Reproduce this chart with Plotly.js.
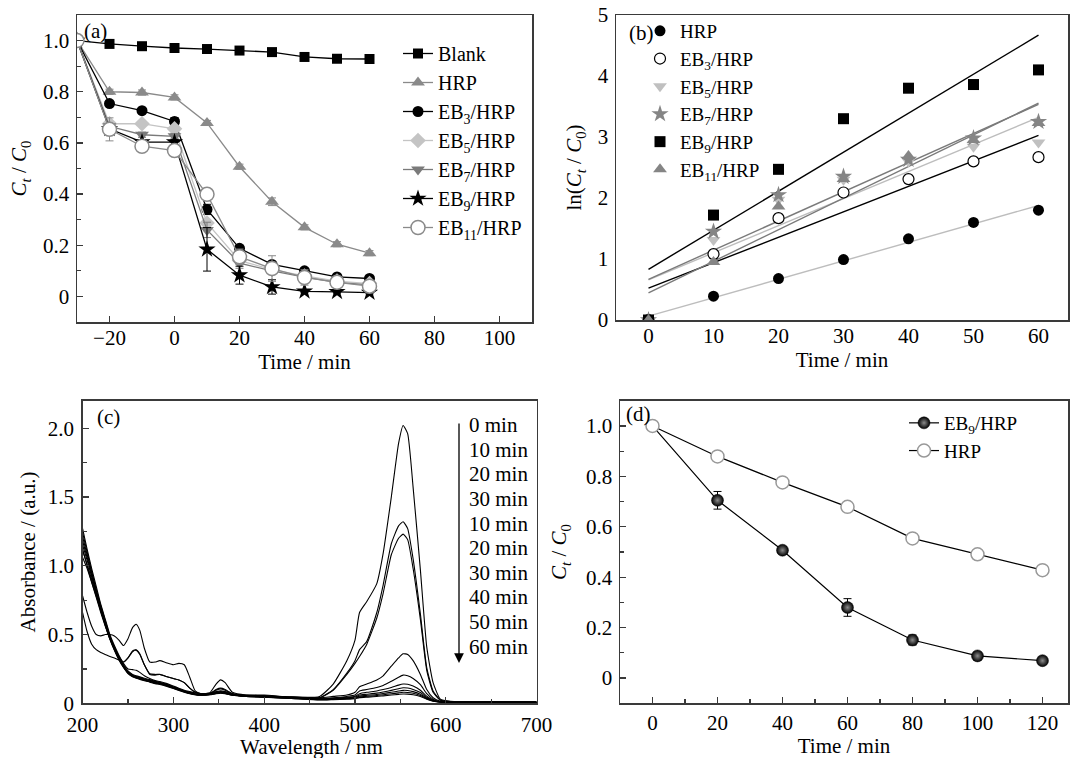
<!DOCTYPE html>
<html><head><meta charset="utf-8">
<script src="https://cdn.plot.ly/plotly-3.0.1.min.js"></script>
<style>html,body{margin:0;padding:0;background:#fff}#chart{width:1070px;height:758px}</style>
</head><body><div id="chart"></div>
<script>
// ---------- Panel (a) ----------
const timeA  = [-30,-20,-10,0,10,20,30,40,50,60];
const blankA = [1.0,0.987,0.978,0.971,0.967,0.961,0.955,0.936,0.929,0.928];
const hrpA   = [1.0,0.800,0.797,0.778,0.678,0.507,0.370,0.270,0.204,0.169];
const eb3A   = [1.0,0.754,0.726,0.684,0.340,0.188,0.125,0.100,0.076,0.070];
const eb5A   = [1.0,0.675,0.675,0.655,0.287,0.140,0.105,0.080,0.060,0.050];
const eb7A   = [1.0,0.665,0.632,0.626,0.260,0.130,0.100,0.075,0.055,0.045];
const eb9A   = [1.0,0.655,0.603,0.603,0.184,0.083,0.037,0.020,0.018,0.015];
const eb11A  = [1.0,0.653,0.587,0.570,0.399,0.155,0.109,0.074,0.055,0.040];
const errHrpA  = [0,0.01,0.01,0.01,0.01,0.01,0.015,0.01,0.01,0.01];
const errEb3A  = [0,0.01,0.01,0.015,0.02,0.01,0.01,0.01,0.01,0.01];
const errEb7A  = [0,0.01,0.01,0.01,0.03,0.02,0.01,0.01,0.01,0.01];
const errEb9A  = [0,0.01,0.01,0.01,0.085,0.035,0.028,0.005,0.005,0.005];
const errEb11A = [0,0.045,0.02,0.02,0.02,0.03,0.05,0.03,0.02,0.02];
const namesA = ['Blank','HRP','EB<sub>3</sub>/HRP','EB<sub>5</sub>/HRP','EB<sub>7</sub>/HRP','EB<sub>9</sub>/HRP','EB<sub>11</sub>/HRP'];

// ---------- Panel (b) ----------
const timeB = [0,10,20,30,40,50,60];
const hrpB  = [0,0.39,0.68,0.99,1.33,1.60,1.80];
const eb3B  = [0,1.08,1.67,2.09,2.31,2.60,2.67];
const eb5B  = [0,1.31,1.97,2.30,2.60,2.84,2.91];
const eb7B  = [0,1.45,2.05,2.35,2.63,2.98,3.25];
const eb9B  = [0,1.72,2.47,3.30,3.80,3.86,4.10];
const eb11B = [0,0.95,1.86,2.31,2.69,2.95,3.23];
const namesB = ['HRP','EB<sub>3</sub>/HRP','EB<sub>5</sub>/HRP','EB<sub>7</sub>/HRP','EB<sub>9</sub>/HRP','EB<sub>11</sub>/HRP'];

// ---------- Panel (c) ----------
const wl = [200,205,210,215,220,225,230,235,240,245,250,255,259,263,268,274,280,285,292,300,306,312,318,324,330,340,347,352,357,365,380,400,430,
            461,476,491,500,505,513,524,531,540,548,553,558,564,572,579,586,594,605,650,700];
const spec0 = [0.78,0.66,0.56,0.50,0.49,0.50,0.50,0.49,0.46,0.42,0.47,0.55,0.575,0.53,0.40,0.30,0.30,0.31,0.295,0.28,0.29,0.28,0.19,0.09,0.07,0.075,0.14,0.17,0.15,0.08,0.06,0.06,0.045,
               0.05,0.14,0.31,0.46,0.66,0.74,0.87,1.09,1.50,1.89,2.02,1.96,1.57,0.97,0.41,0.15,0.03,0.015,0.01,0.01];
const spec1 = [1.12,1.0,0.88,0.77,0.66,0.56,0.47,0.40,0.34,0.30,0.33,0.38,0.39,0.36,0.28,0.21,0.205,0.21,0.195,0.18,0.17,0.15,0.11,0.08,0.07,0.07,0.10,0.11,0.10,0.07,0.055,0.055,0.045,
               0.04,0.10,0.22,0.31,0.39,0.45,0.66,0.86,1.16,1.29,1.32,1.27,1.05,0.65,0.26,0.09,0.025,0.012,0.01,0.01];
const spec2 = [0.66,0.52,0.43,0.39,0.37,0.355,0.34,0.33,0.315,0.30,0.33,0.375,0.385,0.355,0.28,0.215,0.21,0.21,0.195,0.18,0.17,0.15,0.11,0.08,0.07,0.07,0.095,0.105,0.095,0.07,0.055,0.055,0.045,
               0.04,0.095,0.21,0.29,0.34,0.43,0.62,0.80,1.08,1.20,1.23,1.19,0.98,0.61,0.24,0.08,0.022,0.012,0.01,0.01];
const spec3 = [1.27,1.12,0.98,0.85,0.72,0.61,0.50,0.42,0.35,0.29,0.25,0.245,0.24,0.225,0.20,0.18,0.165,0.158,0.145,0.125,0.11,0.095,0.085,0.075,0.07,0.075,0.085,0.09,0.085,0.07,0.06,0.055,0.045,
               0.04,0.05,0.06,0.08,0.12,0.14,0.17,0.20,0.27,0.33,0.36,0.355,0.31,0.21,0.10,0.04,0.015,0.01,0.008,0.008];
const spec4 = [1.24,1.10,0.96,0.83,0.71,0.60,0.49,0.41,0.34,0.28,0.235,0.21,0.20,0.192,0.182,0.172,0.16,0.153,0.14,0.12,0.105,0.09,0.08,0.07,0.065,0.07,0.08,0.085,0.08,0.065,0.055,0.05,0.04,
               0.035,0.04,0.05,0.06,0.09,0.10,0.115,0.13,0.16,0.19,0.205,0.20,0.18,0.135,0.07,0.03,0.012,0.008,0.007,0.007];
const spec5 = [1.21,1.08,0.95,0.82,0.70,0.59,0.485,0.405,0.335,0.275,0.23,0.205,0.195,0.187,0.177,0.167,0.156,0.15,0.137,0.118,0.103,0.089,0.078,0.068,0.063,0.068,0.077,0.082,0.077,0.063,0.053,0.048,0.039,
               0.032,0.036,0.044,0.052,0.07,0.08,0.09,0.10,0.115,0.132,0.14,0.138,0.125,0.095,0.052,0.024,0.011,0.008,0.007,0.007];
const spec6 = [1.18,1.06,0.93,0.81,0.69,0.58,0.48,0.40,0.33,0.27,0.226,0.201,0.191,0.183,0.173,0.163,0.152,0.146,0.134,0.115,0.10,0.087,0.076,0.066,0.061,0.066,0.075,0.08,0.075,0.061,0.052,0.047,0.038,
               0.03,0.034,0.04,0.046,0.06,0.066,0.074,0.082,0.094,0.106,0.113,0.111,0.101,0.078,0.044,0.021,0.01,0.007,0.006,0.006];
const spec7 = [1.15,1.04,0.92,0.80,0.68,0.575,0.475,0.395,0.325,0.267,0.222,0.198,0.188,0.18,0.17,0.16,0.149,0.143,0.131,0.112,0.098,0.085,0.074,0.064,0.06,0.064,0.073,0.078,0.073,0.06,0.051,0.046,0.037,
               0.028,0.031,0.036,0.042,0.052,0.058,0.064,0.071,0.08,0.089,0.094,0.093,0.085,0.066,0.038,0.019,0.01,0.007,0.006,0.006];
const spec8 = [1.11,1.01,0.90,0.79,0.675,0.57,0.47,0.39,0.32,0.264,0.219,0.195,0.185,0.177,0.167,0.157,0.146,0.14,0.128,0.11,0.096,0.083,0.072,0.063,0.059,0.063,0.071,0.076,0.071,0.059,0.05,0.045,0.036,
               0.026,0.029,0.033,0.038,0.046,0.051,0.056,0.062,0.069,0.076,0.08,0.079,0.073,0.057,0.034,0.017,0.009,0.006,0.005,0.005];
const spec9 = [1.06,0.98,0.88,0.78,0.67,0.565,0.465,0.385,0.315,0.26,0.216,0.192,0.182,0.174,0.164,0.154,0.143,0.137,0.125,0.108,0.094,0.081,0.07,0.062,0.058,0.062,0.07,0.074,0.07,0.058,0.049,0.044,0.035,
               0.024,0.027,0.03,0.034,0.041,0.045,0.049,0.054,0.06,0.065,0.068,0.067,0.062,0.049,0.03,0.015,0.008,0.006,0.005,0.005];
const spectra = [spec0,spec1,spec2,spec3,spec4,spec5,spec6,spec7,spec8,spec9];
const timeLabelsC = ['0 min','10 min','20 min','30 min','10 min','20 min','30 min','40 min','50 min','60 min'];

// ---------- Panel (d) ----------
const timeD  = [0,20,40,60,80,100,120];
const eb9D   = [1.0,0.705,0.507,0.280,0.151,0.088,0.069];
const hrpD   = [1.0,0.879,0.776,0.679,0.554,0.491,0.428];
const errEb9D = [0,0.035,0.012,0.035,0.02,0.012,0.01];
const errHrpD = [0,0.012,0.012,0.012,0.012,0.012,0.012];
const namesD = ['EB<sub>9</sub>/HRP','HRP'];

// ---------- helpers ----------
const W = 1070, H = 758;
const px = v => v / W;
const py = v => 1 - v / H;
const FONT = 'Liberation Serif, Times New Roman, serif';
const BLACK = '#000000', GRAY = '#8a8a8a', LIGHT = '#c4c4c4';

function err(arr, color){ return {type:'data', array:arr, visible:true, color:color, thickness:1, width:4}; }
function linFit(xs, ys){
  const n = xs.length; let sx=0, sy=0, sxx=0, sxy=0;
  for (let i=0;i<n;i++){ sx+=xs[i]; sy+=ys[i]; sxx+=xs[i]*xs[i]; sxy+=xs[i]*ys[i]; }
  const m = (n*sxy - sx*sy)/(n*sxx - sx*sx);
  const b = (sy - m*sx)/n;
  return {m, b};
}

const traces = [];

// (a)
const styleA = [
  {y:blankA, sym:'square', size:10, color:BLACK, fill:BLACK, lc:BLACK, e:null},
  {y:hrpA, sym:'triangle-up', size:12, color:GRAY, fill:GRAY, lc:GRAY, e:errHrpA},
  {y:eb3A, sym:'circle', size:11, color:BLACK, fill:BLACK, lc:BLACK, e:errEb3A},
  {y:eb5A, sym:'diamond', size:12, color:LIGHT, fill:LIGHT, lc:LIGHT, e:null},
  {y:eb7A, sym:'triangle-down', size:12, color:'#7a7a7a', fill:'#7a7a7a', lc:'#7a7a7a', e:errEb7A},
  {y:eb9A, sym:'star', size:13, color:BLACK, fill:BLACK, lc:BLACK, e:errEb9A},
  {y:eb11A, sym:'circle', size:14, color:GRAY, fill:'#ffffff', lc:GRAY, e:errEb11A}
];
styleA.forEach((s,i)=>{
  const t = {x:timeA, y:s.y, name:namesA[i], xaxis:'x', yaxis:'y', mode:'lines+markers', legend:'legend',
    line:{color:s.lc, width:1.3},
    marker:{symbol:s.sym, size:s.size, color:s.fill, line:{color:s.color, width:(s.fill==='#ffffff'?1.5:0)}}};
  if (s.e) t.error_y = err(s.e, s.lc);
  traces.push(t);
});

// (b) fitted lines (least squares through each series)
const seriesB = [hrpB, eb3B, eb5B, eb7B, eb9B, eb11B];
const fitColors = ['#bdbdbd', BLACK, '#bdbdbd', '#7a7a7a', BLACK, '#7a7a7a'];
seriesB.forEach((ys,i)=>{
  const f = linFit(timeB, ys);
  const x0 = timeB[0], x1 = timeB[timeB.length-1];
  traces.push({x:[x0,x1], y:[f.b+f.m*x0, f.b+f.m*x1], xaxis:'x2', yaxis:'y2', mode:'lines',
    line:{color:fitColors[i], width:1.4}, showlegend:false, hoverinfo:'skip'});
});
const markB = [
  {sym:'circle', size:11, fill:BLACK, lc:BLACK, lw:0},
  {sym:'circle', size:11, fill:'#ffffff', lc:BLACK, lw:1.2},
  {sym:'triangle-down', size:12, fill:'#c0c0c0', lc:'#c0c0c0', lw:0},
  {sym:'star', size:13, fill:'#858585', lc:'#858585', lw:0},
  {sym:'square', size:11, fill:BLACK, lc:BLACK, lw:0},
  {sym:'triangle-up', size:12, fill:'#858585', lc:'#858585', lw:0}
];
seriesB.forEach((ys,i)=>{
  const s = markB[i];
  traces.push({x:timeB, y:ys, name:namesB[i], xaxis:'x2', yaxis:'y2', mode:'markers', legend:'legend2',
    marker:{symbol:s.sym, size:s.size, color:s.fill, line:{color:s.lc, width:s.lw}}});
});

// (c)
spectra.forEach((ys,i)=>{
  traces.push({x:wl, y:ys, xaxis:'x3', yaxis:'y3', mode:'lines', showlegend:false,
    line:{color:BLACK, width:1.1, shape:'spline', smoothing:0.5}, hoverinfo:'skip'});
});

// (d)
traces.push({x:timeD, y:eb9D, name:namesD[0], xaxis:'x4', yaxis:'y4', mode:'lines+markers', legend:'legend3',
  line:{color:BLACK, width:1.2},
  marker:{symbol:'circle', size:12, color:BLACK, gradient:{type:'radial', color:'#8c8c8c'}, line:{color:BLACK, width:0.5}},
  error_y: err(errEb9D, BLACK)});
traces.push({x:timeD, y:hrpD, name:namesD[1], xaxis:'x4', yaxis:'y4', mode:'lines+markers', legend:'legend3',
  line:{color:BLACK, width:1.2},
  marker:{symbol:'circle', size:13, color:'#ffffff', line:{color:'#999999', width:1.5}},
  error_y: err(errHrpD, '#999999')});

// ---------- axes ----------
const tickFont = {family:FONT, size:21, color:BLACK};
const titleFont = {family:FONT, size:21, color:BLACK};
function ax(extra){
  return Object.assign({showline:true, mirror:true, linecolor:'#3a3a3a', linewidth:1.5, zeroline:false, showgrid:false,
    ticks:'inside', ticklen:6, tickwidth:1.2, tickcolor:'#3a3a3a', tickfont:tickFont, automargin:false, fixedrange:true,
    tickmode:'array'}, extra);
}
const minorY = d => ({dtick:d, ticklen:4, tickcolor:'#3a3a3a', ticks:'inside'});

const layout = {
  width:W, height:H, margin:{l:0,r:0,t:0,b:0}, paper_bgcolor:'#ffffff', plot_bgcolor:'#ffffff',
  font:{family:FONT, size:20, color:BLACK}, showlegend:true,
  xaxis: ax({domain:[px(77),px(532)], range:[-30,110], anchor:'y', tickvals:[-20,0,20,40,60,80,100],
    ticklabelstandoff:-4, title:{text:'Time / min', font:titleFont, standoff:4}}),
  yaxis: ax({domain:[py(322),py(15)], range:[-0.1,1.1], anchor:'x', tickvals:[0,0.2,0.4,0.6,0.8,1.0],
    ticktext:['0','0.2','0.4','0.6','0.8','1.0'], minor:minorY(0.1), ticklabelstandoff:2,
    title:{text:'<i>C</i><sub><i>t</i></sub> / <i>C</i><sub>0</sub>', font:titleFont, standoff:10}}),
  xaxis2: ax({domain:[px(616),px(1068)], range:[-5,64.54], anchor:'y2', ticks:'', tickvals:[0,10,20,30,40,50,60],
    ticklabelstandoff:-4, title:{text:'Time / min', font:titleFont, standoff:4}}),
  yaxis2: ax({domain:[py(320),py(15)], range:[0,5], anchor:'x2', ticks:'', tickvals:[0,1,2,3,4,5], ticklabelstandoff:2,
    title:{text:'ln(<i>C</i><sub><i>t</i></sub> / <i>C</i><sub>0</sub>)', font:titleFont, standoff:10}}),
  xaxis3: ax({domain:[px(82.6),px(536.6)], range:[200,700], anchor:'y3', tickvals:[200,300,400,500,600,700],
    minor:{dtick:50, ticklen:4, tickcolor:'#3a3a3a', ticks:'inside'}, ticklabelstandoff:2}),
  yaxis3: ax({domain:[py(703.3),py(400.7)], range:[0,2.2], anchor:'x3', tickvals:[0,0.5,1.0,1.5,2.0],
    ticktext:['0','0.5','1.0','1.5','2.0'], minor:minorY(0.25), ticklabelstandoff:3,
    title:{text:'Absorbance / (a.u.)', font:titleFont, standoff:6}}),
  xaxis4: ax({domain:[px(620),px(1068)], range:[-10,127.85], anchor:'y4', tickvals:[0,20,40,60,80,100,120],
    minor:{dtick:10, ticklen:4, tickcolor:'#3a3a3a', ticks:'inside'},
    title:{text:'Time / min', font:titleFont, standoff:2}}),
  yaxis4: ax({domain:[py(703.3),py(400.7)], range:[-0.1,1.1], anchor:'x4', tickvals:[0,0.2,0.4,0.6,0.8,1.0],
    ticktext:['0','0.2','0.4','0.6','0.8','1.0'], minor:minorY(0.1), ticklabelstandoff:2,
    title:{text:'<i>C</i><sub><i>t</i></sub> / <i>C</i><sub>0</sub>', font:titleFont, standoff:13}}),
  legend: {x:px(398), y:py(34), xanchor:'left', yanchor:'top', bgcolor:'rgba(0,0,0,0)', borderwidth:0,
    font:{family:FONT, size:20, color:BLACK}, tracegroupgap:0},
  legend2: {x:px(640), y:py(12), xanchor:'left', yanchor:'top', bgcolor:'rgba(0,0,0,0)', borderwidth:0,
    font:{family:FONT, size:19, color:BLACK}, itemwidth:30},
  legend3: {x:px(904), y:py(404), xanchor:'left', yanchor:'top', bgcolor:'rgba(0,0,0,0)', borderwidth:0,
    font:{family:FONT, size:19, color:BLACK}},
  annotations: []
};

// x-axis title of (c), placed just under its tick labels (the reference crops it at the bottom edge)
layout.annotations.push({text:'Wavelength / nm', x:px(311), y:py(747), xref:'paper', yref:'paper', xanchor:'center', yanchor:'middle',
  showarrow:false, font:titleFont});
// panel labels
[['(a)',82,31],['(b)',627,33],['(c)',95,417],['(d)',624,414]].forEach(a=>{
  layout.annotations.push({text:a[0], x:px(a[1]), y:py(a[2]), xref:'paper', yref:'paper', xanchor:'left', yanchor:'middle',
    showarrow:false, font:{family:FONT, size:21, color:BLACK}});
});
// time labels in (c)
timeLabelsC.forEach((t,i)=>{
  layout.annotations.push({text:t, x:px(467), y:py(425 + i*24.63), xref:'paper', yref:'paper', xanchor:'left', yanchor:'middle',
    showarrow:false, font:{family:FONT, size:21, color:BLACK}});
});
// arrow in (c)
layout.annotations.push({text:'', x:px(459), y:py(663), xref:'paper', yref:'paper', ax:0, ay:-241, axref:'pixel', ayref:'pixel',
  showarrow:true, arrowhead:2, arrowsize:1.5, arrowwidth:1.3, arrowcolor:BLACK, standoff:0});

Plotly.newPlot('chart', traces, layout, {displayModeBar:false, staticPlot:true});
</script>
</body></html>
